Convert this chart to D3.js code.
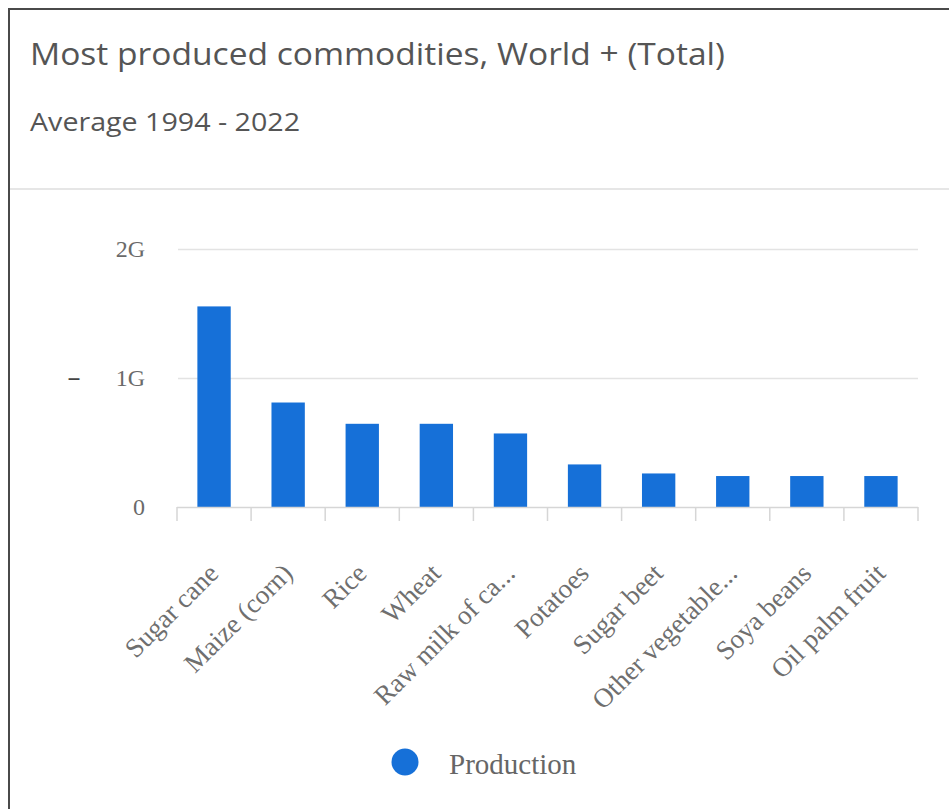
<!DOCTYPE html>
<html>
<head>
<meta charset="utf-8">
<script src="https://cdn.jsdelivr.net/npm/d3@7/dist/d3.min.js"></script>
<style>
  html, body { margin: 0; padding: 0; background: #fff; }
  svg { display: block; }
</style>
</head>
<body>
<svg id="chart" width="949" height="809"></svg>
<script>
// Most produced commodities, world total, average 1994-2022 (tonnes)
const commodities = [
  "Sugar cane", "Maize (corn)", "Rice", "Wheat", "Raw milk of ca...",
  "Potatoes", "Sugar beet", "Other vegetable...", "Soya beans", "Oil palm fruit"
];
const production = [
  1.555e9, 0.81e9, 0.645e9, 0.645e9, 0.57e9,
  0.33e9, 0.26e9, 0.24e9, 0.24e9, 0.24e9
];
const yTicks = [0, 1e9, 2e9];
const seriesName = "Production";

const svg = d3.select("#chart");
const barColor = "#1670d8";
const serif = "'Liberation Serif', 'Times New Roman', serif";
const sans = "'Open Sans', 'Noto Sans', sans-serif";

// Card frame
svg.append("rect").attr("x", 0).attr("y", 0).attr("width", 949).attr("height", 809).attr("fill", "#fff");
svg.append("line").attr("x1", 9).attr("x2", 9).attr("y1", 8).attr("y2", 809)
  .attr("stroke", "#4a4a4a").attr("stroke-width", 2);
svg.append("line").attr("x1", 8).attr("x2", 949).attr("y1", 9).attr("y2", 9)
  .attr("stroke", "#4a4a4a").attr("stroke-width", 2);
svg.append("line").attr("x1", 10).attr("x2", 949).attr("y1", 189).attr("y2", 189)
  .attr("stroke", "#dedede").attr("stroke-width", 1.5);

// Header
svg.append("text").attr("x", 30).attr("y", 65)
  .attr("font-family", sans).attr("font-size", 31).attr("fill", "#555")
  .attr("textLength", 695).attr("lengthAdjust", "spacingAndGlyphs")
  .text("Most produced commodities, World + (Total)");
svg.append("text").attr("x", 30).attr("y", 131)
  .attr("font-family", sans).attr("font-size", 26).attr("fill", "#555")
  .attr("textLength", 270).attr("lengthAdjust", "spacingAndGlyphs")
  .text("Average 1994 - 2022");

// Scales
const x = d3.scaleBand().domain(commodities).range([177, 918])
  .paddingInner(0.55).paddingOuter(0.275);
const y = d3.scaleLinear().domain([0, 2e9]).range([507, 249]);
const fmt = d3.format("~s");

// Gridlines
svg.append("g").selectAll("line").data(yTicks.filter(d => d > 0)).join("line")
  .attr("x1", 178).attr("x2", 918)
  .attr("y1", d => y(d) + 0.5).attr("y2", d => y(d) + 0.5)
  .attr("stroke", "#e3e3e3").attr("stroke-width", 1.5);

// Y tick labels
svg.append("g").selectAll("text").data(yTicks).join("text")
  .attr("x", 145).attr("y", d => y(d) + 8)
  .attr("text-anchor", "end")
  .attr("font-family", serif).attr("font-size", 24).attr("fill", "#6a6a6a")
  .text(d => fmt(d));

// Collapsed axis title mark
svg.append("text").attr("x", 74).attr("y", y(1e9) + 8)
  .attr("text-anchor", "middle")
  .attr("font-family", sans).attr("font-size", 26).attr("fill", "#444")
  .text("–");

// Bars
svg.append("g").selectAll("rect").data(commodities).join("rect")
  .attr("x", d => x(d))
  .attr("y", (d, i) => y(production[i]))
  .attr("width", x.bandwidth())
  .attr("height", (d, i) => y(0) - y(production[i]))
  .attr("fill", barColor);

// X axis baseline and category boundary ticks
const step = x.step();
const x0 = x.range()[0];
svg.append("line").attr("x1", 177).attr("x2", 918).attr("y1", y(0) + 0.5).attr("y2", y(0) + 0.5)
  .attr("stroke", "#d6d6d6").attr("stroke-width", 1.5);
svg.append("g").selectAll("line").data(d3.range(commodities.length + 1)).join("line")
  .attr("x1", i => x0 + i * step).attr("x2", i => x0 + i * step)
  .attr("y1", y(0)).attr("y2", y(0) + 14)
  .attr("stroke", "#d6d6d6").attr("stroke-width", 1.5);

// Rotated category labels
svg.append("g").selectAll("text").data(commodities).join("text")
  .attr("transform", d => `translate(${x(d) + x.bandwidth() / 2 + 6},${575}) rotate(-45)`)
  .attr("text-anchor", "end")
  .attr("font-family", serif).attr("font-size", 27).attr("fill", "#6f6f6f")
  .text(d => d);

// Legend
svg.append("circle").attr("cx", 405).attr("cy", 762).attr("r", 13.5).attr("fill", barColor);
svg.append("text").attr("x", 449).attr("y", 774)
  .attr("font-family", serif).attr("font-size", 29).attr("fill", "#666")
  .text(seriesName);
</script>
</body>
</html>
